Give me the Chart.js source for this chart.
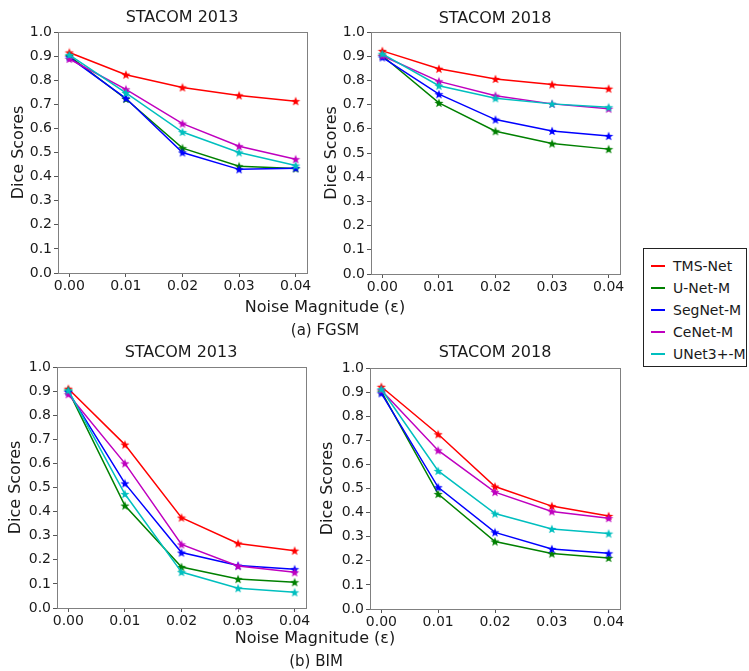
<!DOCTYPE html>
<html>
<head>
<meta charset="utf-8">
<script src="https://cdn.jsdelivr.net/npm/chart.js@4.4.0/dist/chart.umd.min.js"></script>
<style>
  body { margin: 0; background: #fff; font-family: "DejaVu Sans", sans-serif; color: #1a1a1a; }
  #wrap { position: relative; width: 749px; height: 671px; overflow: hidden; }
  canvas { position: absolute; }
  .lbl { position: absolute; white-space: nowrap; text-align: center; line-height: 20px; width: 240px; }
  .title { font-size: 16px; }
  .xlab { font-size: 16px; }
  .cap { font-size: 15px; }
  #legend { position: absolute; left: 643px; top: 248px; width: 102px; height: 117px;
    border: 1.5px solid #222; background: #fff; font-size: 14px; }
  #legend .row { position: absolute; left: 0; height: 20px; line-height: 20px; }
  #legend .sw { position: absolute; left: 7px; top: 9px; width: 14px; height: 2px; }
  #legend .tx { position: absolute; left: 29px; top: 0; white-space: nowrap; }
</style>
</head>
<body>
<div id="wrap">
  <canvas id="fgsm13"></canvas>
  <canvas id="fgsm18"></canvas>
  <canvas id="bim13"></canvas>
  <canvas id="bim18"></canvas>
  <div class="lbl title" style="left:62px;top:7px">STACOM 2013</div>
  <div class="lbl title" style="left:375px;top:8px">STACOM 2018</div>
  <div class="lbl title" style="left:61px;top:342px">STACOM 2013</div>
  <div class="lbl title" style="left:375px;top:342px">STACOM 2018</div>
  <div class="lbl xlab" style="left:205px;top:297px">Noise Magnitude (ε)</div>
  <div class="lbl cap" style="left:205px;top:320px">(a) FGSM</div>
  <div class="lbl xlab" style="left:195px;top:628px">Noise Magnitude (ε)</div>
  <div class="lbl cap" style="left:196px;top:651px">(b) BIM</div>
  <div id="legend"></div>
</div>
<script>
const noiseLevels = [0, 0.01, 0.02, 0.03, 0.04];
const xTickLabels = ["0.00", "0.01", "0.02", "0.03", "0.04"];
const yTickValues = [0, 0.1, 0.2, 0.3, 0.4, 0.5, 0.6, 0.7, 0.8, 0.9, 1.0];
const yTickLabels = ["0.0", "0.1", "0.2", "0.3", "0.4", "0.5", "0.6", "0.7", "0.8", "0.9", "1.0"];

const modelNames = ["TMS-Net", "U-Net-M", "SegNet-M", "CeNet-M", "UNet3+-M"];
const modelColors = ["#ff0000", "#008000", "#0000ff", "#bf00bf", "#00bfbf"];

// one row per model, same order as modelNames
const fgsm2013 = [
  [0.915, 0.823, 0.770, 0.737, 0.713],
  [0.900, 0.722, 0.518, 0.443, 0.434],
  [0.895, 0.725, 0.500, 0.430, 0.435],
  [0.888, 0.762, 0.620, 0.526, 0.472],
  [0.905, 0.747, 0.585, 0.500, 0.446]
];
const fgsm2018 = [
  [0.922, 0.848, 0.806, 0.783, 0.766],
  [0.902, 0.707, 0.590, 0.539, 0.516],
  [0.895, 0.743, 0.638, 0.591, 0.570],
  [0.902, 0.796, 0.737, 0.703, 0.683],
  [0.910, 0.778, 0.726, 0.703, 0.689]
];
const bim2013 = [
  [0.910, 0.678, 0.375, 0.268, 0.238],
  [0.902, 0.425, 0.170, 0.120, 0.107],
  [0.897, 0.517, 0.230, 0.176, 0.161],
  [0.887, 0.600, 0.264, 0.174, 0.148],
  [0.903, 0.473, 0.149, 0.082, 0.065]
];
const bim2018 = [
  [0.922, 0.725, 0.508, 0.427, 0.386],
  [0.902, 0.477, 0.280, 0.230, 0.212],
  [0.895, 0.505, 0.318, 0.249, 0.231],
  [0.908, 0.658, 0.485, 0.405, 0.377],
  [0.912, 0.573, 0.396, 0.332, 0.313]
];

const FONT = "DejaVu Sans";
const TEXT = "#1a1a1a";

// filled 5-point star marker like matplotlib '*'
function starMarker(color) {
  const c = document.createElement("canvas");
  c.width = 10; c.height = 10;
  const g = c.getContext("2d");
  g.fillStyle = color;
  g.beginPath();
  for (let i = 0; i < 10; i++) {
    const r = i % 2 === 0 ? 4.8 : 2.0;
    const a = -Math.PI / 2 + i * Math.PI / 5;
    const px = 5 + r * Math.cos(a), py = 5.4 + r * Math.sin(a);
    i === 0 ? g.moveTo(px, py) : g.lineTo(px, py);
  }
  g.closePath();
  g.fill();
  return c;
}
const markers = modelColors.map(starMarker);

// box around the plot area (matplotlib spines)
const framePlugin = {
  id: "frame",
  afterDraw(chart) {
    const { ctx, chartArea: a } = chart;
    ctx.save();
    ctx.strokeStyle = "#808080";
    ctx.lineWidth = 1;
    ctx.strokeRect(a.left + 0.5, a.top + 0.5, a.right - a.left, a.bottom - a.top);
    ctx.restore();
  }
};

function makePanel(id, rows, box) {
  const cv = document.getElementById(id);
  cv.width = box.w; cv.height = box.h;
  cv.style.left = box.x + "px"; cv.style.top = box.y + "px";
  cv.style.width = box.w + "px"; cv.style.height = box.h + "px";

  const datasets = rows.map((vals, k) => ({
    label: modelNames[k],
    data: noiseLevels.map((x, i) => ({ x: x, y: vals[i] })),
    borderColor: modelColors[k],
    backgroundColor: modelColors[k],
    borderWidth: 1.5,
    pointStyle: markers[k],
    pointRadius: 4,
    tension: 0,
    order: rows.length - k
  }));

  new Chart(cv.getContext("2d"), {
    type: "line",
    data: { datasets },
    plugins: [framePlugin],
    options: {
      responsive: false,
      animation: false,
      devicePixelRatio: 1,
      layout: { padding: { top: box.padTop, right: box.padRight, left: 0, bottom: 0 } },
      plugins: { legend: { display: false }, tooltip: { enabled: false } },
      scales: {
        x: {
          type: "linear",
          min: -0.002,
          max: 0.042,
          afterBuildTicks: s => { s.ticks = noiseLevels.map(v => ({ value: v })); },
          afterFit: s => { s.height = 27; },
          border: { display: false },
          grid: { drawOnChartArea: false, drawTicks: true, tickLength: 4, tickColor: "#555" },
          ticks: {
            autoSkip: false, maxRotation: 0, padding: 1, color: TEXT,
            font: { family: FONT, size: 14 },
            callback: (v, i) => xTickLabels[i]
          }
        },
        y: {
          min: 0,
          max: 1,
          afterBuildTicks: s => { s.ticks = yTickValues.map(v => ({ value: v })); },
          afterFit: s => { s.width = box.yw; },
          border: { display: false },
          grid: { drawOnChartArea: false, drawTicks: true, tickLength: 4, tickColor: "#555" },
          ticks: {
            padding: 2, color: TEXT,
            font: { family: FONT, size: 14 },
            callback: (v, i) => yTickLabels[i]
          },
          title: {
            display: true, text: "Dice Scores", color: TEXT,
            font: { family: FONT, size: 16 },
            padding: { top: box.titleOff - 9.6, bottom: 0 }
          }
        }
      }
    }
  });
}

makePanel("fgsm13", fgsm2013, { x: 0, y: 0, w: 329, h: 300, yw: 58, padTop: 32, padRight: 22, titleOff: 19 });
makePanel("fgsm18", fgsm2018, { x: 310, y: 0, w: 332, h: 301, yw: 61, padTop: 32, padRight: 22, titleOff: 21.7 });
makePanel("bim13", bim2013, { x: 0, y: 335, w: 328, h: 300, yw: 57, padTop: 32, padRight: 22, titleOff: 15.7 });
makePanel("bim18", bim2018, { x: 310, y: 335, w: 332, h: 301, yw: 60, padTop: 33, padRight: 22, titleOff: 18.3 });

// legend box
const legend = document.getElementById("legend");
modelNames.forEach((name, k) => {
  const row = document.createElement("div");
  row.className = "row";
  row.style.top = (6.5 + k * 22.2) + "px";
  row.innerHTML = `<span class="sw" style="background:${modelColors[k]}"></span><span class="tx">${name}</span>`;
  legend.appendChild(row);
});
</script>
</body>
</html>
